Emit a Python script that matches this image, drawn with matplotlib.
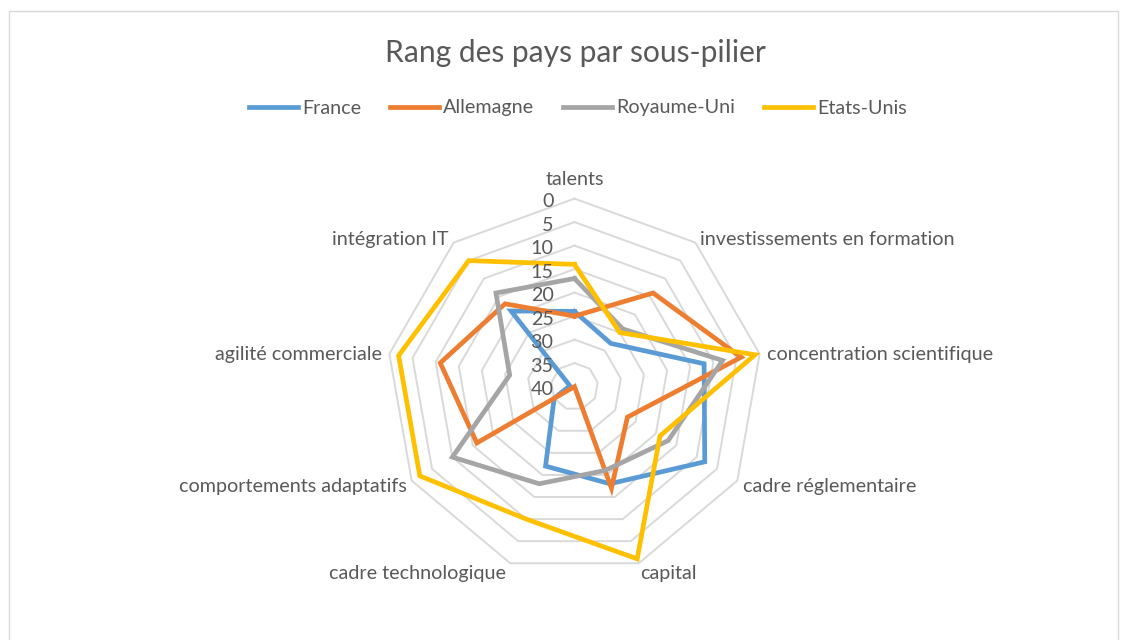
import numpy as np
import matplotlib
matplotlib.use("Agg")
import matplotlib.pyplot as plt
from matplotlib.lines import Line2D
from matplotlib.patches import Rectangle

# ---- data ----
categories = ['talents', 'investissements en formation', 'concentration scientifique',
              'cadre réglementaire', 'capital', 'cadre technologique',
              'comportements adaptatifs', 'agilité commerciale', 'intégration IT']
series_names = ['France', 'Allemagne', 'Royaume-Uni', 'Etats-Unis']
france = [24, 28, 12, 8, 18, 22, 35, 39, 19]
allemagne = [25, 14, 4, 27, 17, 40, 16, 11, 17]
royaume_uni = [17, 24, 8, 17, 21, 18, 10, 26, 14]
etats_unis = [14, 25, 1, 19, 1, 10, 2, 2, 5]
rank_ticks = [0, 5, 10, 15, 20, 25, 30, 35, 40]

colors = ['#5B9BD5', '#ED7D31', '#A5A5A5', '#FFC000']
TXT = '#595959'
FONT = 'Lato'
plt.rcParams['font.family'] = [FONT, 'DejaVu Sans']
FS = 14.2
LW = 3.4

W, H = 1126, 640
fig = plt.figure(figsize=(W / 100, H / 100), dpi=100)

# chart border
fig.add_artist(Rectangle((9 / W, -0.05), (1118 - 9) / W, 1 - 11 / H + 0.05,
                         transform=fig.transFigure, fill=False,
                         edgecolor='#d9d9d9', lw=1.0))

cx, cy, R = 574.5, 386.6, 188
ax = fig.add_axes([(cx - R) / W, (H - cy - R) / H, 2 * R / W, 2 * R / H],
                  projection='polar')
ax.set_theta_zero_location('N')
ax.set_theta_direction(-1)
ax.set_ylim(40, 0)
ax.grid(False)
ax.set_xticks([])
ax.set_yticks([])
ax.spines['polar'].set_visible(False)
ax.patch.set_alpha(0)

n = len(categories)
theta = np.arange(n) * 2 * np.pi / n
theta_c = np.append(theta, theta[0])

# polygon grid rings
for v in rank_ticks[:-1]:
    ax.plot(theta_c, [v] * (n + 1), color='#d9d9d9', lw=1.4, zorder=1,
            clip_on=False)

# series
data = [france, allemagne, royaume_uni, etats_unis]
for vals, col in zip(data, colors):
    ax.plot(theta_c, list(vals) + [vals[0]], color=col, lw=LW, zorder=3,
            solid_joinstyle='miter', clip_on=False)

# radial tick labels
for v in rank_ticks:
    ax.annotate(str(v), xy=(0, v), xytext=(-21, -3), textcoords='offset pixels',
                ha='right', va='center', fontsize=FS, color=TXT,
                annotation_clip=False, zorder=4)

# category labels
offsets = [((0, 19), 'center'), ((5, 3), 'left'), ((7, -1), 'left'),
           ((6, -6), 'left'), ((1, -10), 'left'), ((-4, -10), 'right'),
           ((-5, -6), 'right'), ((-7, -1), 'right'), ((-5, 3), 'right')]
for th, cat, (off, ha) in zip(theta, categories, offsets):
    ax.annotate(cat, xy=(th, 0), xytext=off, textcoords='offset pixels',
                ha=ha, va='center', fontsize=FS, color=TXT,
                annotation_clip=False)

# title
fig.text(575 / W, 1 - 53 / H, 'Rang des pays par sous-pilier', ha='center',
         va='center', fontsize=21.6, color=TXT)

# legend
handles = [Line2D([], [], color=c, lw=LW) for c in colors]
fig.legend(handles, series_names, ncol=4, loc='center',
           bbox_to_anchor=(578 / W, 1 - 108 / H), frameon=False,
           fontsize=FS, handlelength=2.5, handletextpad=0.2,
           columnspacing=1.45, labelcolor=TXT)

fig.savefig('out.png', dpi=100)
